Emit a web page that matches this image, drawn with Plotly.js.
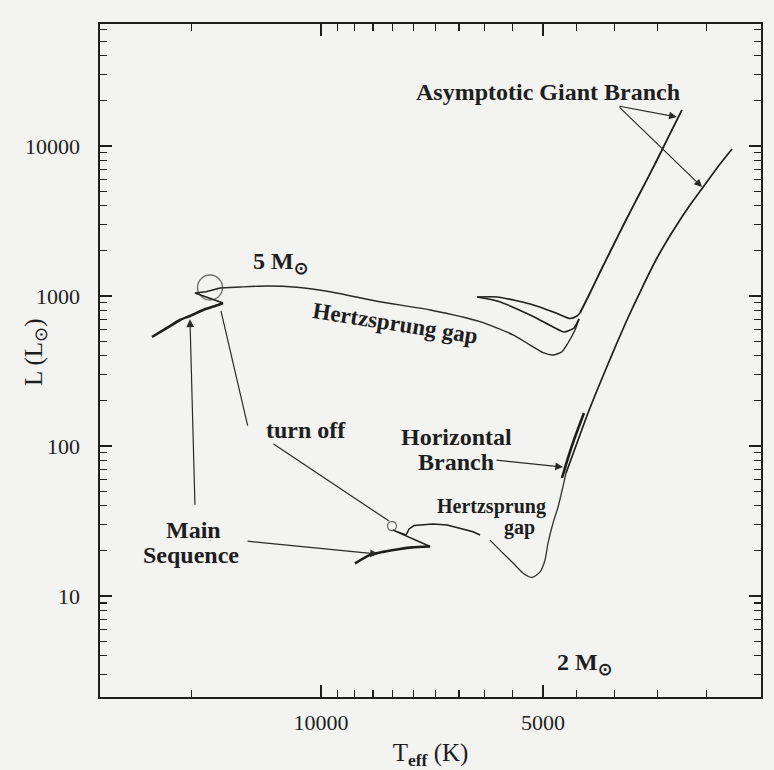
<!DOCTYPE html>
<html>
<head>
<meta charset="utf-8">
<script src="https://cdn.plot.ly/plotly-3.0.1.min.js"></script>
<style>
  html, body { margin: 0; padding: 0; background: #f3f3f1; }
  #hr { width: 774px; height: 770px; }
</style>
</head>
<body>
<div id="hr"></div>
<script>
// ---- 5 solar-mass evolutionary track (Teff in K, L in solar units) ----
const ms5T = [16950, 16175, 15534, 15056, 14454, 13793, 13579];
const ms5L = [533, 612, 692, 736, 807, 871, 898];
const hook5T = [13579, 14822, 14319, 13707];
const hook5L = [898, 1047, 1068, 1130];
const gap5T = [13707, 12878, 11837, 10778, 9723, 8318, 7112, 6086, 5490, 5205, 5000, 4846, 4712, 4625, 4525, 4469];
const gap5L = [1130, 1148, 1166, 1143, 1068, 916, 807, 674, 550, 471, 419, 404, 425, 486, 593, 703];
const loopOut5T = [4469, 4539, 4683, 4846, 5205, 5770, 6143];
const loopOut5L = [703, 612, 575, 622, 747, 926, 985];
const loopBack5T = [6143, 5770, 5205, 4801, 4596, 4497, 4455];
const loopBack5L = [985, 985, 884, 770, 708, 736, 770];
const agb5T = [4455, 4318, 4184, 4031, 3871, 3694, 3525, 3385, 3240];
const agb5L = [770, 1047, 1445, 2089, 3114, 4861, 7586, 11307, 17378];

// ---- 2 solar-mass evolutionary track ----
const ms2T = [8994, 8582, 8240, 7813, 7527, 7112];
const ms2L = [16.5, 18.8, 19.7, 20.6, 21.1, 21.4];
const hook2T = [7112, 7988, 7668, 7597, 7479, 7046, 6747, 6221, 6086];
const hook2L = [21.4, 27.5, 25.5, 28.0, 29.5, 30.2, 29.7, 26.8, 25.5];
const rgbLow2T = [5900, 5666, 5490, 5320, 5173, 5046, 4969, 4922, 4846, 4771, 4653];
const rgbLow2L = [23.6, 19.3, 16.6, 14.2, 13.3, 14.5, 17.4, 22.6, 30.7, 39.2, 66.1];
const rgbUp2T = [4653, 4497, 4345, 4184, 4018, 3847, 3671, 3503, 3333, 3160, 3005, 2877, 2771];
const rgbUp2L = [66.1, 104.7, 166, 263, 423, 692, 1130, 1792, 2713, 4043, 5666, 7586, 9550];
const hb2T = [4712, 4625, 4539, 4400];
const hb2L = [61.2, 83.2, 110, 166];

// turn-off markers
const turnoffT = [14142, 8013];
const turnoffL = [1139, 29.3];

// ---- axis ticks ----
const xMajor = [10000, 5000];
const xLabels = ['10000', '5000'];
const xMinor = [15000, 9500, 9000, 8500, 8000, 7500, 7000, 6500, 6000, 5500, 4500, 4000, 3500, 3000];
const yMajor = [10, 100, 1000, 10000];
const yLabels = ['10', '100', '1000', '10000'];
const yMinor = [];
[1, 10, 100, 1000, 10000].forEach(function (d) {
  for (let k = 2; k <= 9; k++) yMinor.push(k * d);
});

const INK = '#1e1e1e';
const SERIF = 'Liberation Serif, Times New Roman, serif';

function track(T, L, width, color, shape) {
  return {
    x: T, y: L, type: 'scatter', mode: 'lines', hoverinfo: 'skip',
    line: { color: color || INK, width: width, shape: shape || 'linear', smoothing: 0.6 }
  };
}

const data = [
  track(ms5T, ms5L, 2.6, INK, 'spline'),
  track(hook5T, hook5L, 1.5),
  track(gap5T, gap5L, 1.4, '#2a2a2a', 'spline'),
  track(loopOut5T, loopOut5L, 1.6, INK, 'spline'),
  track(loopBack5T, loopBack5L, 1.6, INK, 'spline'),
  track(agb5T, agb5L, 1.8, INK, 'spline'),
  track(ms2T, ms2L, 2.6, INK, 'spline'),
  track(hook2T, hook2L, 1.5),
  track(rgbLow2T, rgbLow2L, 1.3, '#333', 'spline'),
  track(rgbUp2T, rgbUp2L, 1.7, INK, 'spline'),
  track(hb2T, hb2L, 2.6, INK, 'spline'),
  {
    x: turnoffT, y: turnoffL, type: 'scatter', mode: 'markers', hoverinfo: 'skip',
    marker: { symbol: 'circle-open', size: [25, 9], color: '#333', line: { width: 1.3, color: '#333' } }
  }
];

const lg = Math.log10;

function label(text, xp, yp, size, bold, angle) {
  return {
    text: text, xref: 'paper', yref: 'paper', x: xp, y: yp,
    xanchor: 'center', yanchor: 'middle', showarrow: false,
    textangle: angle || 0,
    font: { family: SERIF, size: size, color: INK, weight: bold ? 'bold' : 'normal' }
  };
}

function pointer(T, L, ax, ay, head) {
  return {
    text: '', x: lg(T), y: lg(L), xref: 'x', yref: 'y',
    ax: ax, ay: ay, showarrow: true,
    arrowhead: head ? 2 : 0, arrowsize: 1.3, arrowwidth: 1.2, arrowcolor: '#2a2a2a'
  };
}

const annotations = [
  label('Asymptotic Giant Branch', 0.6778, 0.8990, 24, true),
  label('5 M<sub>⊙</sub>', 0.2738, 0.6449, 24, true),
  label('Hertzsprung gap', 0.4478, 0.5557, 23, true, 9),
  label('turn off', 0.3116, 0.3967, 24, true),
  label('Horizontal', 0.5386, 0.3863, 24, true),
  label('Branch', 0.5386, 0.3492, 24, true),
  label('Main', 0.1407, 0.2481, 24, true),
  label('Sequence', 0.1377, 0.2110, 24, true),
  label('Hertzsprung', 0.5930, 0.2838, 20, true),
  label('gap', 0.6339, 0.2526, 20, true),
  label('2 M<sub>⊙</sub>', 0.7337, 0.0490, 24, true),
  label('L (L<sub>⊙</sub>)', -0.0983, 0.5126, 25, false, -90),
  // arrows
  pointer(15056, 700, 5, 187, true),
  pointer(8370, 19.05, -132, -13, true),
  pointer(13665, 794, 27, 116, false),
  pointer(8087, 31.6, -117, -78, false),
  pointer(4697, 72.4, -68, -7, true),
  pointer(3292, 15610, -59, -11, true),
  pointer(3043, 5329, -84, -81, true)
];

const axisCommon = {
  type: 'log', tickmode: 'array', ticks: 'inside', ticklen: 12, tickwidth: 1.3, tickcolor: INK,
  showline: true, linecolor: INK, linewidth: 1.6, mirror: 'ticks',
  showgrid: false, zeroline: false,
  tickfont: { family: SERIF, size: 22, color: INK }
};

const layout = {
  width: 774, height: 770,
  margin: { l: 100, r: 13, t: 24, b: 73 },
  paper_bgcolor: '#f3f3f1', plot_bgcolor: '#f3f3f1',
  showlegend: false,
  font: { family: SERIF, color: INK },
  xaxis: Object.assign({}, axisCommon, {
    range: [4.2997, 3.4034], tickvals: xMajor, ticktext: xLabels, ticklabelstandoff: 5,
    minor: { tickmode: 'array', tickvals: xMinor, ticks: 'inside', ticklen: 7, tickwidth: 1.2, tickcolor: INK, showgrid: false },
    title: { text: 'T<sub><b>eff</b></sub> (K)', font: { family: SERIF, size: 25, color: INK }, standoff: 16 }
  }),
  yaxis: Object.assign({}, axisCommon, {
    range: [0.327, 4.813], tickvals: yMajor, ticktext: yLabels, ticklabelstandoff: 14,
    minor: { tickmode: 'array', tickvals: yMinor, ticks: 'inside', ticklen: 7, tickwidth: 1.2, tickcolor: INK, showgrid: false }
  }),
  annotations: annotations
};

Plotly.newPlot('hr', data, layout, { staticPlot: true, displayModeBar: false });
</script>
</body>
</html>
